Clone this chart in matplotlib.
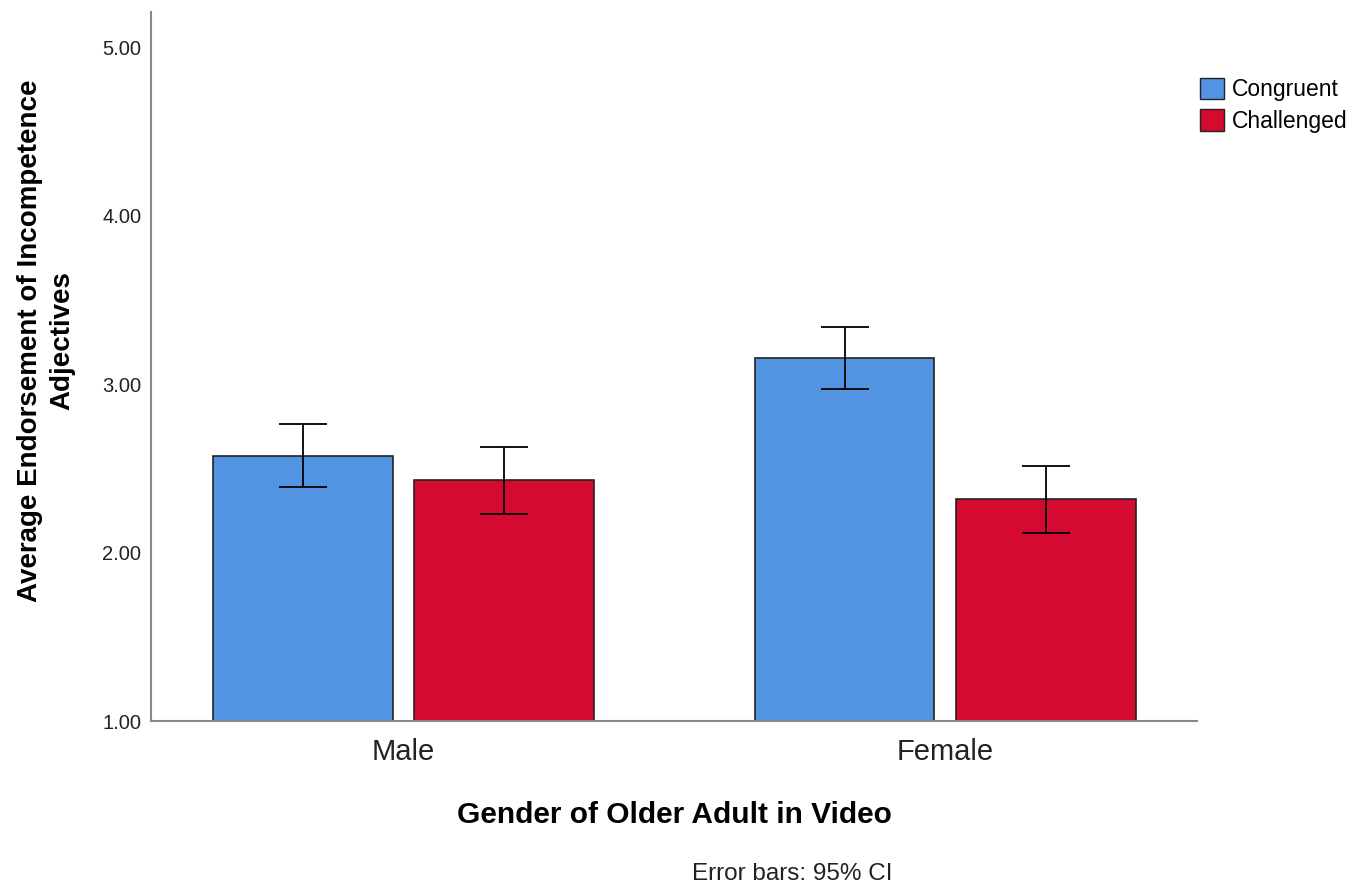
import matplotlib
matplotlib.use('Agg')
import matplotlib.pyplot as plt
import numpy as np
from matplotlib.patches import Patch

plt.rcParams['font.family'] = ['Liberation Sans', 'DejaVu Sans']

genders = ['Male', 'Female']
conditions = ['Congruent', 'Challenged']
means_congruent = [2.575, 3.157]
means_challenged = [2.432, 2.319]
ci_low_congruent = [2.390, 2.973]
ci_high_congruent = [2.765, 3.342]
ci_low_challenged = [2.230, 2.117]
ci_high_challenged = [2.629, 2.516]
yticks = [1.0, 2.0, 3.0, 4.0, 5.0]

blue = '#5294e2'
red = '#d50a30'

fig = plt.figure(figsize=(13.71, 8.86), dpi=100)
ax = fig.add_axes([0.1101, 0.1862, 0.7630, 0.8003])

x = np.arange(len(genders))
width = 0.332
offset = 0.1856
base = 1.0

means_c = np.array(means_congruent)
means_h = np.array(means_challenged)

ax.bar(x - offset, means_c - base, width, bottom=base, color=blue,
       edgecolor='#222222', linewidth=1.2, zorder=2)
ax.bar(x + offset, means_h - base, width, bottom=base, color=red,
       edgecolor='#222222', linewidth=1.2, zorder=2)

err_c = [means_c - np.array(ci_low_congruent), np.array(ci_high_congruent) - means_c]
err_h = [means_h - np.array(ci_low_challenged), np.array(ci_high_challenged) - means_h]
ax.errorbar(x - offset, means_c, yerr=err_c, fmt='none', ecolor='black',
            elinewidth=1.3, capsize=17, capthick=1.3, zorder=3)
ax.errorbar(x + offset, means_h, yerr=err_h, fmt='none', ecolor='black',
            elinewidth=1.3, capsize=17, capthick=1.3, zorder=3)

ax.set_xlim(-0.466, 1.465)
ax.set_ylim(1.0, 5.21)
ax.set_yticks(yticks)
ax.set_yticklabels(['%.2f' % v for v in yticks], fontsize=14.5, color='#222222')
ax.set_xticks(x)
ax.set_xticklabels(genders, fontsize=21, color='#222222')
ax.tick_params(axis='both', length=0)
ax.tick_params(axis='y', pad=7)
ax.tick_params(axis='x', pad=12)

for side in ['top', 'right']:
    ax.spines[side].set_visible(False)
for side in ['left', 'bottom']:
    ax.spines[side].set_color('#888888')
    ax.spines[side].set_linewidth(1.5)

ax.set_xlabel('Gender of Older Adult in Video', fontsize=21.5, fontweight='bold',
              va='center')
ax.xaxis.set_label_coords(0.5, -0.132)
ax.set_ylabel('Average Endorsement of Incompetence\nAdjectives', fontsize=20,
              fontweight='bold', va='center', linespacing=1.3)
ax.yaxis.set_label_coords(-0.1, 0.536)

handles = [Patch(facecolor=blue, edgecolor='#222222', label=conditions[0]),
           Patch(facecolor=red, edgecolor='#222222', label=conditions[1])]
fig.legend(handles=handles, loc='upper left', bbox_to_anchor=(0.8753, 0.912),
           frameon=False, fontsize=16.5, handlelength=1.05, handleheight=1.05,
           handletextpad=0.33, labelspacing=0.35, borderpad=0, borderaxespad=0)

fig.text(0.578, 0.0135, 'Error bars: 95% CI', ha='center', va='center',
         fontsize=17.5, color='#222222')

fig.savefig('out.png', dpi=100)
